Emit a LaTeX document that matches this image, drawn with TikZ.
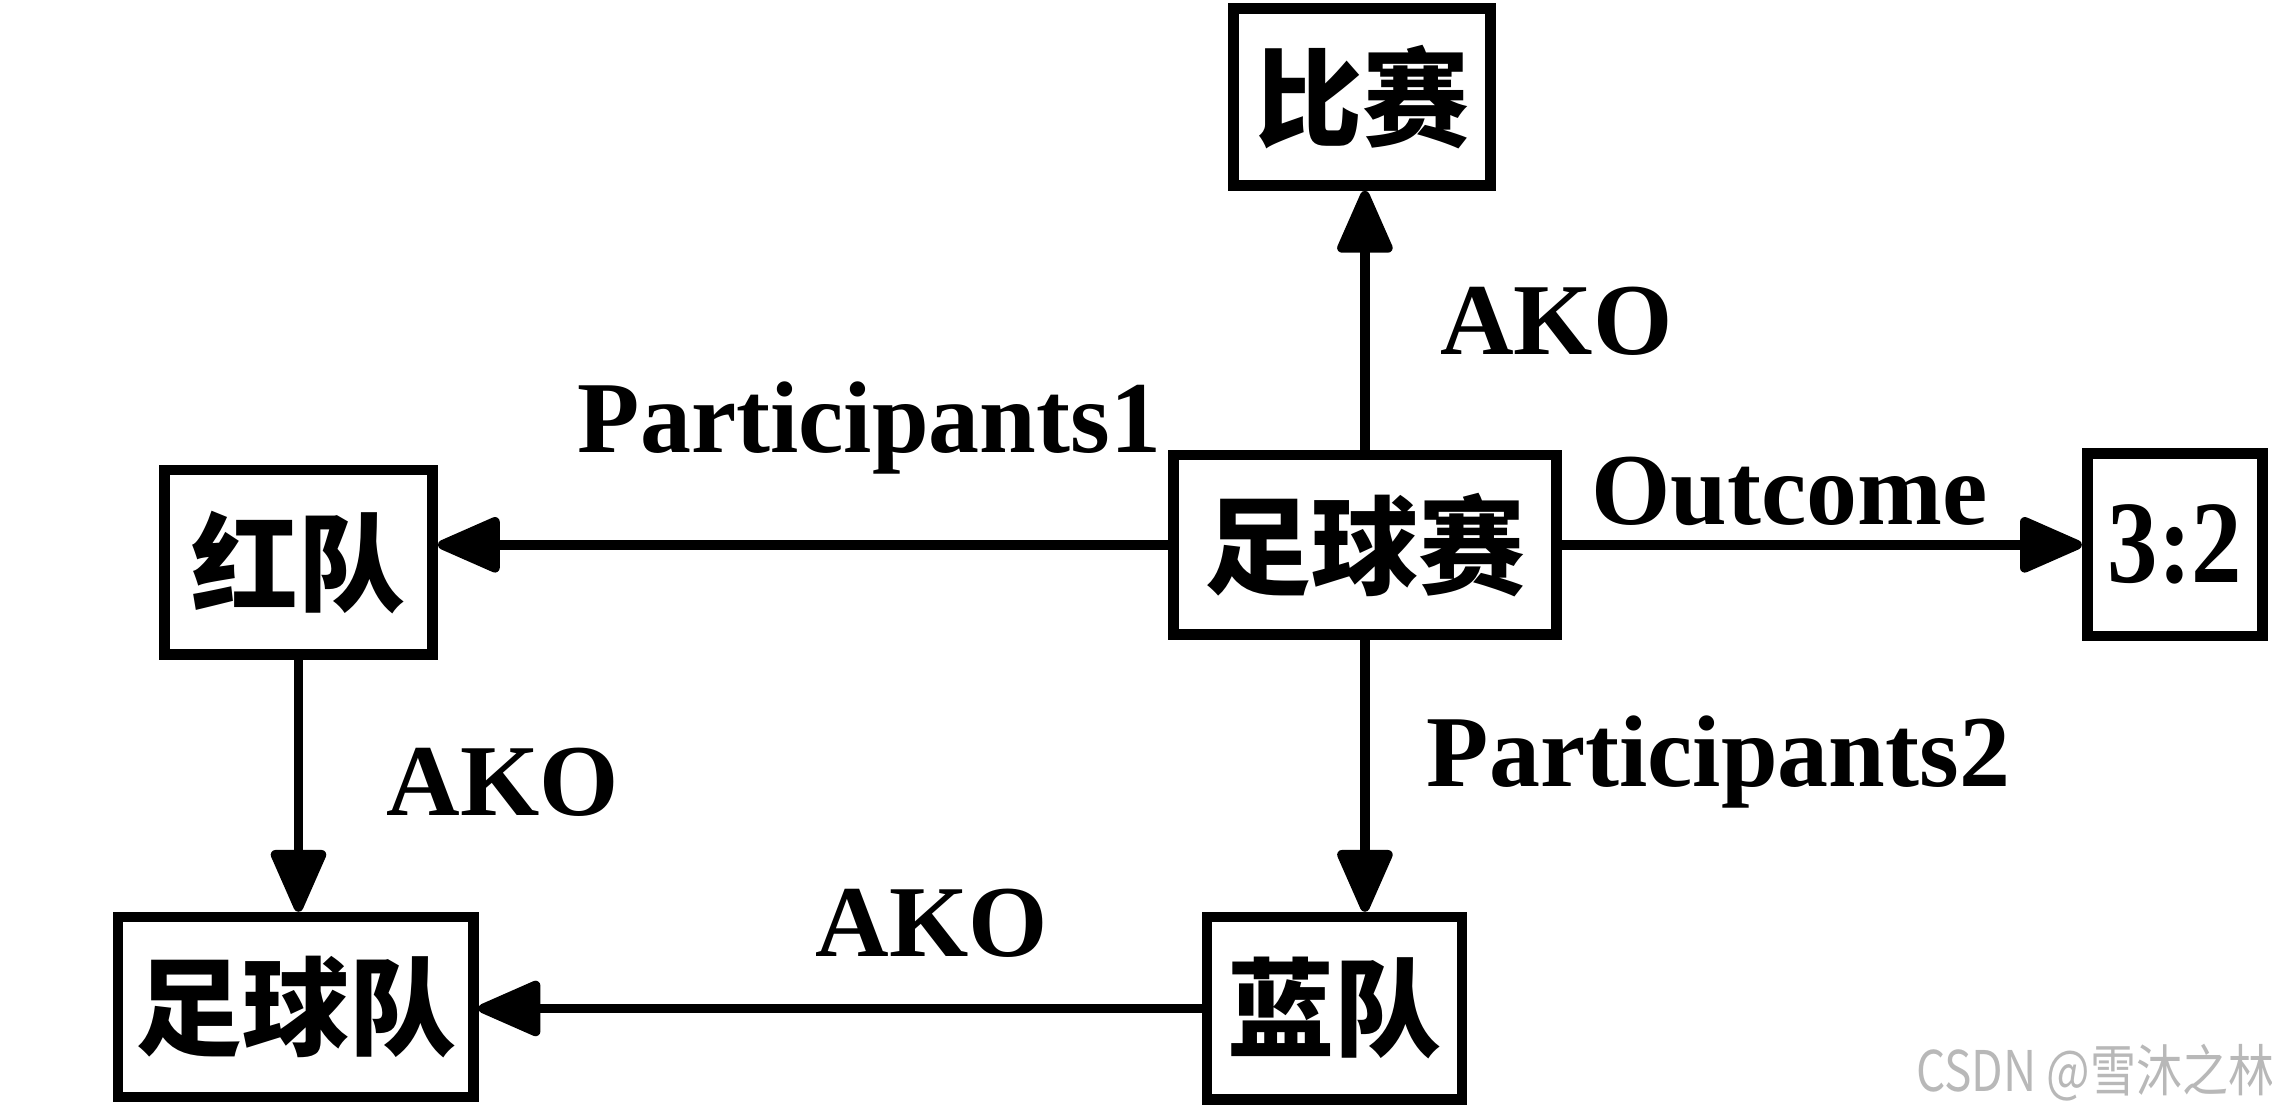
\documentclass[tikz,border=0pt]{standalone}
\usepackage{fontspec}
\setmainfont{Liberation Serif}
\newfontfamily\cjk{Noto Sans CJK SC}
\usetikzlibrary{arrows.meta}
\tikzset{
  box/.style={draw=black, line width=2.1pt, fill=white, inner sep=0pt, font=\cjk\bfseries\fontsize{21}{21}\selectfont},
  arr/.style={line width=1.9pt, -{Triangle[length=4.8mm, width=4mm, round]}},
  lbl/.style={font=\bfseries\fontsize{20}{20}\selectfont, anchor=base, inner sep=0pt},
  wmark/.style={font=\cjk\fontsize{11}{11}\selectfont, text=black!28, inner sep=0pt}
}
\begin{document}
\begin{tikzpicture}[x=0.01cm, y=-0.01cm]
\useasboundingbox (0,0) rectangle (1568,764);
\node[box, minimum width=1.77cm, minimum height=1.22cm] (bs) at (940,67) {比赛};
\node[box, minimum width=2.64cm, minimum height=1.24cm] (zqs) at (942,376) {足球赛};
\node[box, minimum width=1.85cm, minimum height=1.27cm] (hd) at (206,388) {红队};
\node[box, minimum width=1.21cm, minimum height=1.26cm, font=\bfseries\fontsize{22}{22}\selectfont] (sc) at (1501,376) {\scalebox{0.9}[1.05]{3:2}};
\node[box, minimum width=1.76cm, minimum height=1.26cm] (ld) at (921,696) {蓝队};
\node[box, minimum width=2.45cm, minimum height=1.24cm] (zqd) at (204,695) {足球队};

\draw[arr] (zqs.north) -- (zqs.north |- bs.south);
\draw[arr] (zqs.west) -- (zqs.west -| hd.east);
\draw[arr] (zqs.east) -- (zqs.east -| sc.west);
\draw[arr] (zqs.south) -- (zqs.south |- ld.north);
\draw[arr] (hd.south) -- (hd.south |- zqd.north);
\draw[arr] (ld.west) -- (ld.west -| zqd.east);

\node[lbl] (l1) at (1074,245) {AKO};
\node[lbl] (l2) at (600,312) {Participants1};
\node[lbl] (l3) at (1235,362) {Outcome};
\node[lbl] (l4) at (1186,543) {Participants2};
\node[lbl] (l5) at (347,563) {AKO};
\node[lbl] (l6) at (643,660) {AKO};
\node[wmark, xscale=0.82] (wm) at (1446,740) {CSDN @雪沐之林};
\end{tikzpicture}
\end{document}
